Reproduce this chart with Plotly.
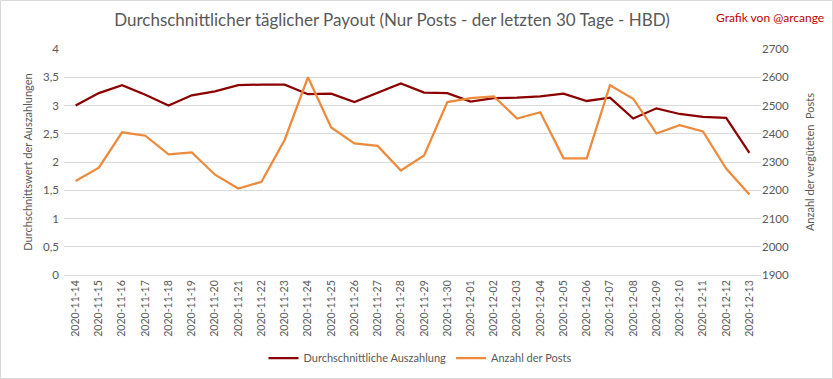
import plotly.graph_objects as go

dates = ["2020-11-14","2020-11-15","2020-11-16","2020-11-17","2020-11-18","2020-11-19","2020-11-20",
         "2020-11-21","2020-11-22","2020-11-23","2020-11-24","2020-11-25","2020-11-26","2020-11-27",
         "2020-11-28","2020-11-29","2020-11-30","2020-12-01","2020-12-02","2020-12-03","2020-12-04",
         "2020-12-05","2020-12-06","2020-12-07","2020-12-08","2020-12-09","2020-12-10","2020-12-11",
         "2020-12-12","2020-12-13"]

avg_payout = [3.00, 3.22, 3.36, 3.19, 3.00, 3.18, 3.25, 3.36, 3.37, 3.37, 3.20, 3.21, 3.06, 3.22,
              3.39, 3.23, 3.22, 3.07, 3.13, 3.14, 3.16, 3.21, 3.08, 3.14, 2.77, 2.95, 2.85, 2.80,
              2.78, 2.16]

post_count = [2233, 2280, 2405, 2393, 2327, 2334, 2255, 2206, 2230, 2379, 2600, 2422, 2366, 2357,
              2270, 2323, 2512, 2526, 2532, 2454, 2476, 2313, 2313, 2572, 2524, 2401, 2430, 2408,
              2277, 2185]

left_ticks = [0, 0.5, 1, 1.5, 2, 2.5, 3, 3.5, 4]
left_ticktext = ["0", "0,5", "1", "1,5", "2", "2,5", "3", "3,5", "4"]
right_ticks = [1900, 2000, 2100, 2200, 2300, 2400, 2500, 2600, 2700]

FONT = "Lato, 'Open Sans', sans-serif"
GRAY = "#595959"

fig = go.Figure()
fig.add_trace(go.Scatter(x=dates, y=avg_payout, name="Durchschnittliche Auszahlung",
                         mode="lines", line=dict(color="#8b0000", width=2.25), yaxis="y"))
fig.add_trace(go.Scatter(x=dates, y=post_count, name="Anzahl der Posts",
                         mode="lines", line=dict(color="#ed8a3c", width=2.25), yaxis="y2"))

L, R, T, B = 64, 72, 49, 104
W, H = 833, 379
pw, ph = W - L - R, H - T - B

fig.update_layout(
    width=W, height=H,
    margin=dict(l=L, r=R, t=T, b=B, autoexpand=False),
    paper_bgcolor="white", plot_bgcolor="white",
    font=dict(family=FONT, color=GRAY, size=11),
    title=dict(text="Durchschnittlicher täglicher Payout (Nur Posts - der letzten 30 Tage - HBD)",
               x=392 / W, xref="container", xanchor="center", y=1 - 20 / H, yanchor="middle",
               font=dict(size=17, color=GRAY, family=FONT)),
    xaxis=dict(type="category", range=[-0.5, len(dates) - 0.5], tickangle=-90,
               tickfont=dict(size=10.5, color=GRAY),
               showgrid=False, showline=True, linecolor="#d9d9d9", ticks="", ticklen=0),
    yaxis=dict(range=[0, 4], tickvals=left_ticks, ticktext=left_ticktext,
               gridcolor="#d9d9d9", gridwidth=1, zeroline=False, showline=False,
               tickfont=dict(size=11.5, color=GRAY), ticklabelstandoff=4,
               title=dict(text="Durchschnittswert der Auszahlungen", font=dict(size=11, color=GRAY),
                          standoff=8)),
    yaxis2=dict(range=[1900, 2700], tickvals=right_ticks, overlaying="y", side="right",
                showgrid=False, zeroline=False, showline=False,
                tickfont=dict(size=11.5, color=GRAY),
                title=dict(text="Anzahl der vergüteten  Posts", font=dict(size=11, color=GRAY),
                           standoff=18)),
    legend=dict(orientation="h", x=(420 - L) / pw, xanchor="center", y=-(358 - 275) / ph,
                yanchor="middle", font=dict(size=11, color=GRAY), itemwidth=30),
    showlegend=True,
)

fig.add_annotation(text="Grafik von @arcange", xref="paper", yref="paper",
                   x=(826 - L) / pw, xanchor="right", y=(275 - 18) / ph, yanchor="middle",
                   showarrow=False, font=dict(size=12, color="#c00000", family=FONT))

fig.add_shape(type="rect", xref="paper", yref="paper",
              x0=(0.5 - L) / pw, x1=(832.5 - L) / pw,
              y0=(275 - 378.5) / ph, y1=(275 - 0.5) / ph,
              line=dict(color="#d9d9d9", width=1), fillcolor="rgba(0,0,0,0)", layer="below")

fig.write_html("out.html", config={"displayModeBar": False},
               post_script="document.body.style.margin='0';")
